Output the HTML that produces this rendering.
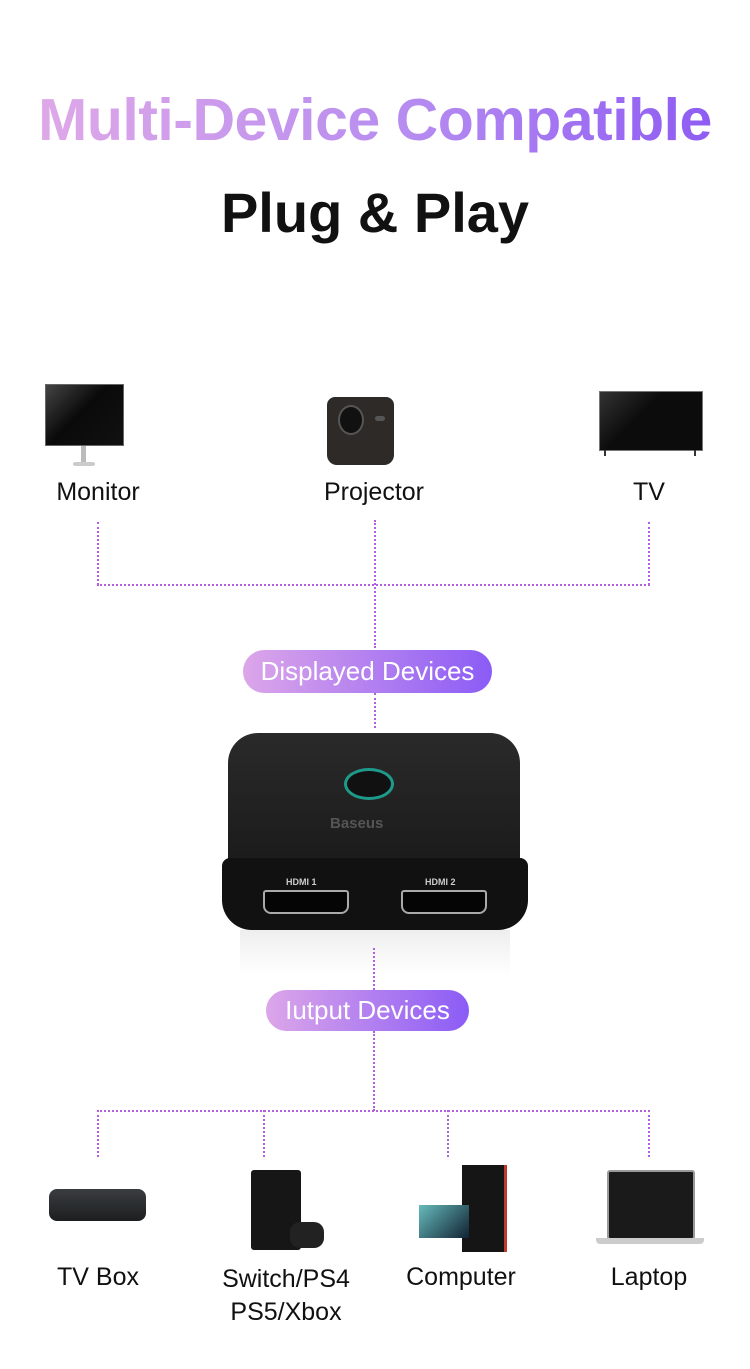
<!DOCTYPE html>
<html><head><meta charset="utf-8"><style>
body{margin:0;width:750px;height:1369px;background:#fff;position:relative;overflow:hidden;font-family:"Liberation Sans",sans-serif}
.a{position:absolute}
.t1{left:0;width:750px;top:86px;text-align:center;font-size:59px;font-weight:bold;letter-spacing:-0.5px;white-space:nowrap}
.t1 span{background:linear-gradient(90deg,#dfa8e8,#b68cf0 55%,#8e5cf3);-webkit-background-clip:text;background-clip:text;color:transparent}
.t2{left:0;width:750px;top:180px;text-align:center;font-size:56px;font-weight:bold;color:#111}
.lb{font-size:25px;color:#111;text-align:center;width:200px}
.v{border-left:2px dotted #b060e0;width:0}
.h{border-top:2px dotted #b060e0;height:0}
.pill{border-radius:22px;background:linear-gradient(90deg,#dca6e9,#8b5cf6);color:#fff;font-size:26px;text-align:center}
</style></head><body>
<div class="a t1"><span>Multi-Device Compatible</span></div>
<div class="a t2">Plug &amp; Play</div>

<div class="a" style="left:45px;top:384px;width:77px;height:60px;background:linear-gradient(135deg,#444,#0a0a0a 45%,#111);border:1px solid #666"></div>
<div class="a" style="left:81px;top:446px;width:5px;height:16px;background:#bbb"></div>
<div class="a" style="left:73px;top:462px;width:22px;height:4px;background:#ccc;border-radius:2px"></div>
<div class="a" style="left:327px;top:397px;width:67px;height:68px;background:#2e2a28;border-radius:8px 8px 10px 10px"></div>
<div class="a" style="left:338px;top:405px;width:22px;height:26px;background:#111;border-radius:50%;border:2px solid #555"></div>
<div class="a" style="left:375px;top:416px;width:10px;height:5px;background:#555;border-radius:3px"></div>
<div class="a" style="left:599px;top:391px;width:102px;height:58px;background:linear-gradient(135deg,#333,#0c0c0c 40%);border:1px solid #777"></div>
<div class="a" style="left:604px;top:450px;width:2px;height:6px;background:#333"></div>
<div class="a" style="left:694px;top:450px;width:2px;height:6px;background:#333"></div>

<div class="a lb" style="left:-2px;top:478px">Monitor</div>
<div class="a lb" style="left:274px;top:478px">Projector</div>
<div class="a lb" style="left:549px;top:478px">TV</div>

<div class="a v" style="left:97px;top:522px;height:63px"></div>
<div class="a v" style="left:374px;top:520px;height:128px"></div>
<div class="a v" style="left:648px;top:522px;height:63px"></div>
<div class="a h" style="left:97px;top:584px;width:553px"></div>

<div class="a pill" style="left:243px;top:650px;width:249px;height:43px;line-height:43px">Displayed Devices</div>
<div class="a v" style="left:374px;top:693px;height:35px"></div>

<div class="a" style="left:228px;top:733px;width:292px;height:140px;background:linear-gradient(180deg,#2a2a2a,#1a1a1a);border-radius:30px 30px 10px 10px"></div>
<div class="a" style="left:222px;top:858px;width:306px;height:72px;background:#111;border-radius:8px 8px 30px 30px"></div>
<div class="a" style="left:347px;top:771px;width:44px;height:26px;border-radius:50%;background:#111;box-shadow:0 0 0 3px #1e9a8a"></div>
<div class="a" style="left:330px;top:815px;font-size:15px;font-weight:bold;color:#555">Baseus</div>
<div class="a" style="left:286px;top:877px;font-size:9px;font-weight:bold;color:#ccc">HDMI 1</div>
<div class="a" style="left:425px;top:877px;font-size:9px;font-weight:bold;color:#ccc">HDMI 2</div>
<div class="a" style="left:263px;top:890px;width:82px;height:20px;background:#050505;border:2px solid #aaa;border-radius:3px 3px 8px 8px"></div>
<div class="a" style="left:401px;top:890px;width:82px;height:20px;background:#050505;border:2px solid #aaa;border-radius:3px 3px 8px 8px"></div>
<div class="a" style="left:240px;top:930px;width:270px;height:45px;background:linear-gradient(#eee,#fff)"></div>

<div class="a v" style="left:373px;top:948px;height:42px"></div>
<div class="a pill" style="left:266px;top:990px;width:203px;height:41px;line-height:41px">Iutput Devices</div>
<div class="a v" style="left:373px;top:1031px;height:80px"></div>
<div class="a h" style="left:97px;top:1110px;width:553px"></div>
<div class="a v" style="left:97px;top:1110px;height:47px"></div>
<div class="a v" style="left:263px;top:1110px;height:47px"></div>
<div class="a v" style="left:447px;top:1110px;height:47px"></div>
<div class="a v" style="left:648px;top:1110px;height:47px"></div>

<div class="a" style="left:49px;top:1189px;width:97px;height:32px;background:linear-gradient(#3a3d40,#1c1e20);border-radius:8px"></div>
<div class="a" style="left:251px;top:1170px;width:50px;height:80px;background:#161616;border-radius:3px"></div>
<div class="a" style="left:290px;top:1222px;width:34px;height:26px;background:#222;border-radius:10px"></div>
<div class="a" style="left:462px;top:1165px;width:42px;height:87px;background:#151515;border-right:3px solid #c0392b"></div>
<div class="a" style="left:419px;top:1205px;width:50px;height:33px;background:linear-gradient(135deg,#6bb,#123)"></div>
<div class="a" style="left:607px;top:1170px;width:84px;height:66px;background:#1a1a1a;border:2px solid #999;border-radius:3px"></div>
<div class="a" style="left:596px;top:1238px;width:108px;height:6px;background:#ccc;border-radius:0 0 4px 4px"></div>

<div class="a lb" style="left:-2px;top:1263px">TV Box</div>
<div class="a lb" style="left:186px;top:1263px;line-height:33px">Switch/PS4<br>PS5/Xbox</div>
<div class="a lb" style="left:361px;top:1263px">Computer</div>
<div class="a lb" style="left:549px;top:1263px">Laptop</div>
</body></html>
